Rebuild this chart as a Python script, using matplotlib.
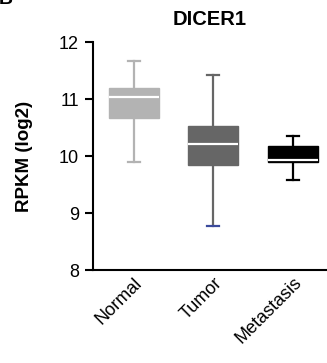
import matplotlib.pyplot as plt

plt.rcParams['font.family'] = ['Liberation Sans', 'DejaVu Sans']

groups = ['Normal', 'Tumor', 'Metastasis']
whislo = [9.90, 8.78, 9.58]
q1 = [10.67, 9.85, 9.89]
med = [11.03, 10.21, 9.94]
q3 = [11.19, 10.53, 10.17]
whishi = [11.67, 11.42, 10.36]
colors = ['#b3b3b3', '#666666', '#000000']

stats = []
for i in range(len(groups)):
    stats.append(dict(label=groups[i], whislo=whislo[i], q1=q1[i], med=med[i],
                      q3=q3[i], whishi=whishi[i], fliers=[]))

fig = plt.figure(figsize=(3.27, 3.63), dpi=100, facecolor='white')
ax = fig.add_axes([0.284, 0.256, 0.716, 0.628])

bp = ax.bxp(stats, positions=[1, 2, 3], widths=0.63, patch_artist=True,
            showfliers=False, capwidths=0.15)
for i, c in enumerate(colors):
    bp['boxes'][i].set(facecolor=c, edgecolor=c, linewidth=1)
    bp['medians'][i].set(color='white', linewidth=1.6)
    for w in bp['whiskers'][2 * i:2 * i + 2]:
        w.set(color=c, linewidth=1.6)
    for cp in bp['caps'][2 * i:2 * i + 2]:
        cp.set(color=c, linewidth=1.6)
# lower cap of the tumor group is drawn in dark blue in the original
bp['caps'][2].set(color='#3b4a9c')

ax.set_xlim(0.484, 3.43)
ax.set_ylim(8, 12)
ax.set_yticks([8, 9, 10, 11, 12])
ax.spines['top'].set_visible(False)
ax.spines['right'].set_visible(False)
ax.spines['left'].set_linewidth(1.5)
ax.spines['bottom'].set_linewidth(1.5)
ax.tick_params(axis='y', length=6, width=1.5, labelsize=13, pad=4)
ax.tick_params(axis='x', length=0, labelsize=13, pad=3)
plt.setp(ax.get_xticklabels(), rotation=45, ha='right', rotation_mode='anchor')

ax.set_ylabel('RPKM (log2)', fontsize=13.5, fontweight='bold')
ax.yaxis.set_label_coords(-0.255, 0.5)
ax.set_title('DICER1', fontsize=14.5, fontweight='bold', pad=12)
fig.text(-0.005, 1.0, 'B', fontsize=14, fontweight='bold', va='center')

plt.savefig('out.png', dpi=100)
